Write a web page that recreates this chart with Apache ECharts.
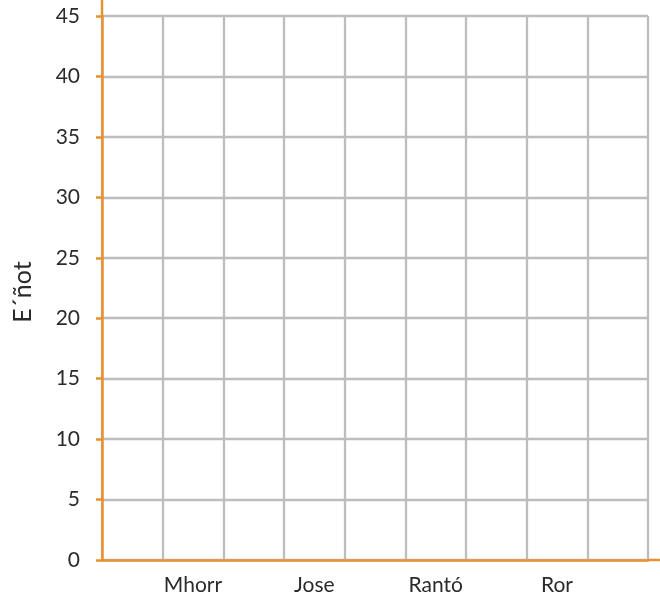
<!DOCTYPE html>
<html>
<head>
<meta charset="utf-8">
<script src="https://cdn.jsdelivr.net/npm/echarts@6/dist/echarts.min.js"></script>
<style>
  html, body { margin: 0; padding: 0; background: #ffffff; }
  #chart { width: 660px; height: 604px; }
</style>
</head>
<body>
<div id="chart"></div>
<script>
// Category slots along the x axis; only every other slot carries a name.
const categories = ['', 'Mhorr', '', 'Jose', '', 'Rantó', '', 'Ror', ''];
// No values recorded yet for any slot.
const values = [null, null, null, null, null, null, null, null, null];
const yName = 'E´ñot';
const yMin = 0;
const yMax = 45;
const yStep = 5;

const axisColor = '#E8912D';
const gridColor = '#BDBDC0';
const textColor = '#2b2b2b';
const fontFamily = 'Lato, "Noto Sans", sans-serif';

const chart = echarts.init(document.getElementById('chart'), null, { renderer: 'canvas' });

chart.setOption({
  animation: false,
  backgroundColor: '#ffffff',
  grid: { left: 102, right: 12, top: 16, bottom: 44, containLabel: false },
  xAxis: {
    type: 'category',
    data: categories,
    boundaryGap: true,
    axisLine: { show: true, lineStyle: { color: axisColor, width: 2.5 } },
    axisTick: { show: false },
    axisLabel: {
      interval: 0,
      formatter: v => v,
      color: textColor,
      fontSize: 21,
      fontFamily: fontFamily,
      margin: 15
    },
    splitLine: { show: true, interval: 0, lineStyle: { color: gridColor, width: 2.3 } }
  },
  yAxis: {
    type: 'value',
    min: yMin,
    max: yMax,
    interval: yStep,
    name: yName,
    nameLocation: 'middle',
    nameGap: 67,
    nameTextStyle: { color: textColor, fontSize: 25, fontFamily: fontFamily, padding: [0, 8, 0, 0] },
    axisLine: { show: true, lineStyle: { color: axisColor, width: 2.5 } },
    axisTick: { show: true, length: 6, lineStyle: { color: axisColor, width: 2.5 } },
    axisLabel: { color: textColor, fontSize: 21, fontFamily: fontFamily, margin: 22 },
    splitLine: { show: true, lineStyle: { color: gridColor, width: 2.3 } }
  },
  series: [{
    type: 'bar',
    data: values
  }]
});

// Extend both axis lines past the plot area to the canvas edges.
const grid = chart.getModel().getComponent('grid', 0).coordinateSystem.getRect();
chart.setOption({
  graphic: [
    {
      type: 'line', silent: true, z: 10,
      shape: { x1: grid.x, y1: 0, x2: grid.x, y2: grid.y },
      style: { stroke: axisColor, lineWidth: 2.5 }
    },
    {
      type: 'line', silent: true, z: 10,
      shape: { x1: grid.x + grid.width, y1: grid.y + grid.height, x2: 660, y2: grid.y + grid.height },
      style: { stroke: axisColor, lineWidth: 2.5 }
    }
  ]
});
</script>
</body>
</html>
